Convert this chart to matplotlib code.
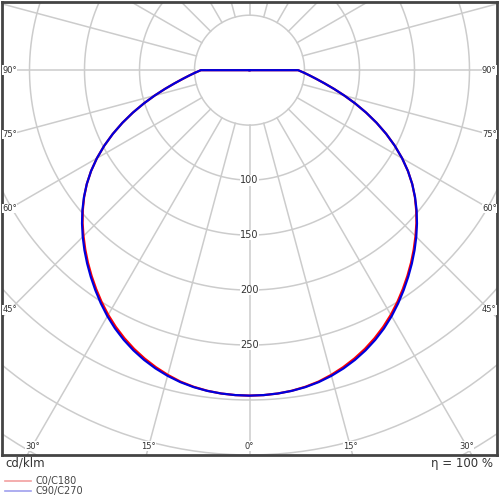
import numpy as np
import matplotlib
matplotlib.use("Agg")
import matplotlib.pyplot as plt

gamma = [0, 2.5, 5, 7.5, 10, 12.5, 15, 17.5, 20, 22.5, 25, 27.5, 30, 32.5, 35, 37.5, 40, 42.5, 45,
         47.5, 50, 52.5, 55, 57.5, 60, 62.5, 65, 67.5, 70, 72.5, 75, 77.5, 80, 82.5, 85, 87.5, 90]
c0_c180 = [296, 295.8, 295.2, 294.1, 292.4, 290.1, 286.9, 283.2, 279.0, 274.3, 269.0, 263.2, 256.9,
           250.1, 243.0, 235.8, 228.5, 221.0, 213.4, 205.8, 197.8, 189.5, 180.6, 170.8, 160.2,
           148.9, 137.1, 125.0, 112.8, 100.8, 89.3, 78.7, 69.3, 61.4, 54.8, 49.2, 44.2]
c90_c270 = [296, 295.8, 295.2, 294.2, 292.7, 290.6, 287.8, 284.4, 280.4, 275.8, 270.6, 264.8, 258.4,
            251.5, 244.3, 237.0, 229.6, 222.1, 214.4, 206.5, 198.3, 189.7, 180.6, 170.8, 160.2,
            148.9, 137.1, 125.0, 112.8, 100.8, 89.3, 78.7, 69.3, 61.4, 54.8, 49.2, 44.2]

ring_labels = [100, 150, 200, 250]
angle_labels = [0, 15, 30, 45, 60, 75, 90]
unit = 'cd/klm'
eta = 'η = 100 %'

XMAX = 225
YMIN, YMAX = -350, 62


def full_curve(vals):
    # -90..90 gespiegelt, an den Enden zur Mitte (r=0 bei 180°)
    ang = np.array([-180] + [-g for g in gamma[::-1]] + gamma[1:] + [180], dtype=float)
    r = np.array([0] + vals[::-1] + vals[1:] + [0], dtype=float)
    t = np.radians(ang)
    return r * np.sin(t), -r * np.cos(t)


fig = plt.figure(figsize=(5, 5), dpi=100)
ax = fig.add_axes([0.004, 0.09, 0.99, 0.906])
ax.set_xlim(-XMAX, XMAX)
ax.set_ylim(YMIN, YMAX)
ax.set_xticks([])
ax.set_yticks([])
for s in ax.spines.values():
    s.set_color('#444444')
    s.set_linewidth(2)

grid_col = '#cccccc'
t = np.linspace(0, 2 * np.pi, 400)
for r in range(50, 501, 50):
    ax.plot(r * np.cos(t), r * np.sin(t), color=grid_col, lw=1.1, zorder=1)
for a in range(0, 360, 15):
    ar = np.radians(a)
    ax.plot([50 * np.sin(ar), 600 * np.sin(ar)], [-50 * np.cos(ar), -600 * np.cos(ar)],
            color=grid_col, lw=1.1, zorder=1)

x, y = full_curve(c0_c180)
ax.plot(x, y, color='red', lw=1.6, zorder=3)
x, y = full_curve(c90_c270)
ax.plot(x, y, color='#0000dd', lw=1.6, zorder=4)

for r in ring_labels:
    ax.text(0, -r, str(r), ha='center', va='center', fontsize=7, color='#333333', zorder=5,
            bbox=dict(facecolor='white', edgecolor='none', pad=0.3))

inset_x = XMAX - 7
inset_y = YMIN + 8
for a in angle_labels:
    ar = np.radians(a)
    if a == 0:
        ax.text(0, inset_y, '0°', ha='center', va='center', fontsize=6, color='#333333', zorder=5,
                bbox=dict(facecolor='white', edgecolor='none', pad=0.2))
        continue
    if inset_x / np.tan(ar) <= -YMIN - 10:
        px, py = inset_x, -inset_x / np.tan(ar)
    else:
        px, py = -inset_y * np.tan(ar), inset_y
    for sgn in (-1, 1):
        ax.text(sgn * px, py, f'{a}°', ha='center', va='center', fontsize=6, color='#333333',
                zorder=5, bbox=dict(facecolor='white', edgecolor='none', pad=0.2))

fig.text(0.01, 0.073, unit, ha='left', va='center', fontsize=8.5, color='#333333')
fig.text(0.986, 0.073, eta, ha='right', va='center', fontsize=8.5, color='#333333')

fig.add_artist(plt.Line2D([0.01, 0.062], [0.038, 0.038], color='#f2a0a0', lw=1.2))
fig.add_artist(plt.Line2D([0.01, 0.062], [0.018, 0.018], color='#a0a0ee', lw=1.2))
fig.text(0.07, 0.038, 'C0/C180', ha='left', va='center', fontsize=7, color='#444444')
fig.text(0.07, 0.018, 'C90/C270', ha='left', va='center', fontsize=7, color='#444444')

fig.savefig('out.png', dpi=100)
